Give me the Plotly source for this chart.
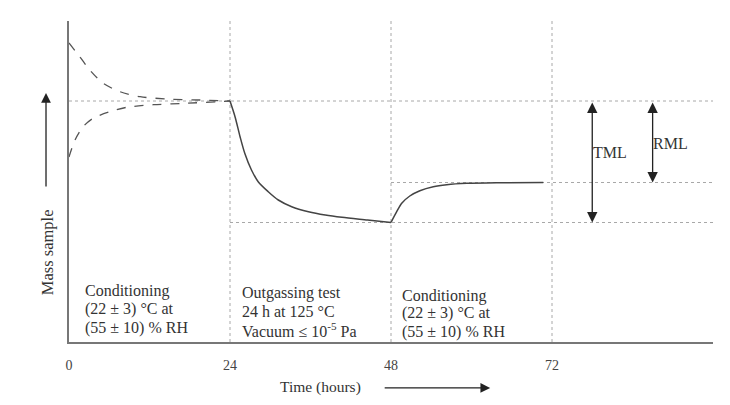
import plotly.graph_objects as go

# ---- data (hours, arbitrary mass units) ----
upper_t = [0, 1.6, 3.1, 5.1, 7.6, 10.6, 14.6, 19.5, 24]
upper_m = [299, 285.3, 272, 258.7, 250.3, 245.3, 243, 242, 241]
lower_t = [0, 0.9, 2.1, 3.6, 6.1, 8.6, 12.6, 17.5, 24]
lower_m = [185, 202, 215.3, 223.7, 230.3, 234.7, 237.3, 238.7, 241]
out_t = [24, 24.75, 25.5, 26.2, 27.2, 28.2, 29.7, 31.2, 33.2, 35.7, 38.2, 40.7, 44.5, 48]
out_m = [241, 225.3, 205.3, 188.7, 172, 160.3, 150.3, 142, 135.3, 130.3, 127, 124.7, 122, 119.5]
rec_t = [48, 48.85, 49.6, 50.8, 52.3, 54.3, 56.3, 59.3, 63.8, 70.7]
rec_m = [119.5, 130.3, 138.7, 146, 151.3, 155.3, 157.3, 158.7, 159.3, 159.5]

phase_bounds = [24, 48, 72]
tick_vals = [0, 24, 48, 72]
tick_text = ["0", "24", "48", "72"]
level_initial = 241
level_final = 159.5
level_min = 119.5
tml_x = 78
rml_x = 87
x_max = 96
y_max = 321

phase_lines = [
    ["Conditioning", "(22 ± 3) °C at", "(55 ± 10) % RH"],
    ["Outgassing test", "24 h at 125 °C", "Vacuum ≤ 10<sup>-5</sup> Pa"],
    ["Conditioning", "(22 ± 3) °C at", "(55 ± 10) % RH"],
]
phase_text_x = [2.1, 25.5, 49.3]
phase_line_y = [[51, 33, 14], [49, 31, 12], [46, 29, 10]]

FONT = "Liberation Serif, Times New Roman, serif"
INK = "#333333"
GRID = "#a8a8a8"

fig = go.Figure()
fig.add_trace(go.Scatter(x=upper_t, y=upper_m, mode="lines", line=dict(color="#555", width=1.3, dash="dash", shape="spline", smoothing=0.8), hoverinfo="skip"))
fig.add_trace(go.Scatter(x=lower_t, y=lower_m, mode="lines", line=dict(color="#555", width=1.3, dash="dash", shape="spline", smoothing=0.8), hoverinfo="skip"))
fig.add_trace(go.Scatter(x=out_t, y=out_m, mode="lines", line=dict(color="#444", width=1.5, shape="spline", smoothing=0.8), hoverinfo="skip"))
fig.add_trace(go.Scatter(x=rec_t, y=rec_m, mode="lines", line=dict(color="#444", width=1.5, shape="spline", smoothing=0.8), hoverinfo="skip"))

shapes = []
for b in phase_bounds:
    shapes.append(dict(type="line", xref="x", yref="y", x0=b, x1=b, y0=0, y1=y_max,
                       line=dict(color=GRID, width=1, dash="dot"), layer="below"))
shapes.append(dict(type="line", xref="x", yref="y", x0=0, x1=x_max, y0=level_initial, y1=level_initial,
                   line=dict(color=GRID, width=1, dash="dot"), layer="below"))
shapes.append(dict(type="line", xref="x", yref="y", x0=48, x1=x_max, y0=level_final, y1=level_final,
                   line=dict(color=GRID, width=1, dash="dot"), layer="below"))
shapes.append(dict(type="line", xref="x", yref="y", x0=24, x1=x_max, y0=level_min, y1=level_min,
                   line=dict(color=GRID, width=1, dash="dot"), layer="below"))

ann = []
for lines, x, ys in zip(phase_lines, phase_text_x, phase_line_y):
    for t, y in zip(lines, ys):
        ann.append(dict(x=x, y=y, xref="x", yref="y", text=t, showarrow=False, xanchor="left",
                        yanchor="middle", align="left", font=dict(family=FONT, size=16, color=INK)))
# TML / RML double arrows
ann.append(dict(x=tml_x, y=level_min, ax=tml_x, ay=level_initial, xref="x", yref="y", axref="x", ayref="y",
                text="", showarrow=True, arrowhead=2, startarrowhead=2, arrowside="end+start",
                arrowsize=1.6, startarrowsize=1.6, arrowwidth=1.3, arrowcolor="#222", standoff=0, startstandoff=0))
ann.append(dict(x=rml_x, y=level_final, ax=rml_x, ay=level_initial, xref="x", yref="y", axref="x", ayref="y",
                text="", showarrow=True, arrowhead=2, startarrowhead=2, arrowside="end+start",
                arrowsize=1.6, startarrowsize=1.6, arrowwidth=1.3, arrowcolor="#222", standoff=0, startstandoff=0))
ann.append(dict(x=80.6, y=190, xref="x", yref="y", text="TML", showarrow=False,
                font=dict(family=FONT, size=16, color=INK)))
ann.append(dict(x=89.7, y=199, xref="x", yref="y", text="RML", showarrow=False,
                font=dict(family=FONT, size=16, color=INK)))
# axis titles with arrows
ann.append(dict(x=-0.034, y=0.28, xref="paper", yref="paper", text="Mass sample", textangle=-90,
                xanchor="center", yanchor="middle",
                showarrow=False, font=dict(family=FONT, size=16.5, color=INK)))
ann.append(dict(x=-0.0357, y=0.776, xref="paper", yref="paper", ax=0, ay=95, text="", showarrow=True,
                arrowhead=2, arrowsize=1.5, arrowwidth=1.3, arrowcolor="#222", standoff=0))
ann.append(dict(x=0.39, y=-0.140, xref="paper", yref="paper", text="Time (hours)", showarrow=False,
                xanchor="center", yanchor="middle",
                font=dict(family=FONT, size=15.5, color=INK)))
ann.append(dict(x=0.654, y=-0.143, xref="paper", yref="paper", ax=-107, ay=0, text="", showarrow=True,
                arrowhead=2, arrowsize=1.5, arrowwidth=1.3, arrowcolor="#222", standoff=0))

fig.update_layout(
    width=722, height=397,
    margin=dict(l=61, r=17, t=13, b=63),
    paper_bgcolor="white", plot_bgcolor="white",
    showlegend=False,
    shapes=shapes, annotations=ann,
    xaxis=dict(range=[0, x_max], showgrid=False, zeroline=False, showline=True, linecolor="#777", linewidth=1.5,
               tickvals=tick_vals, ticktext=tick_text, ticks="", ticklabelstandoff=9,
               tickfont=dict(family=FONT, size=14, color="#444")),
    yaxis=dict(range=[0, y_max], showgrid=False, zeroline=False, showline=True, linecolor="#777", linewidth=1.5,
               showticklabels=False, ticks=""),
)
fig.write_html("out.html")
